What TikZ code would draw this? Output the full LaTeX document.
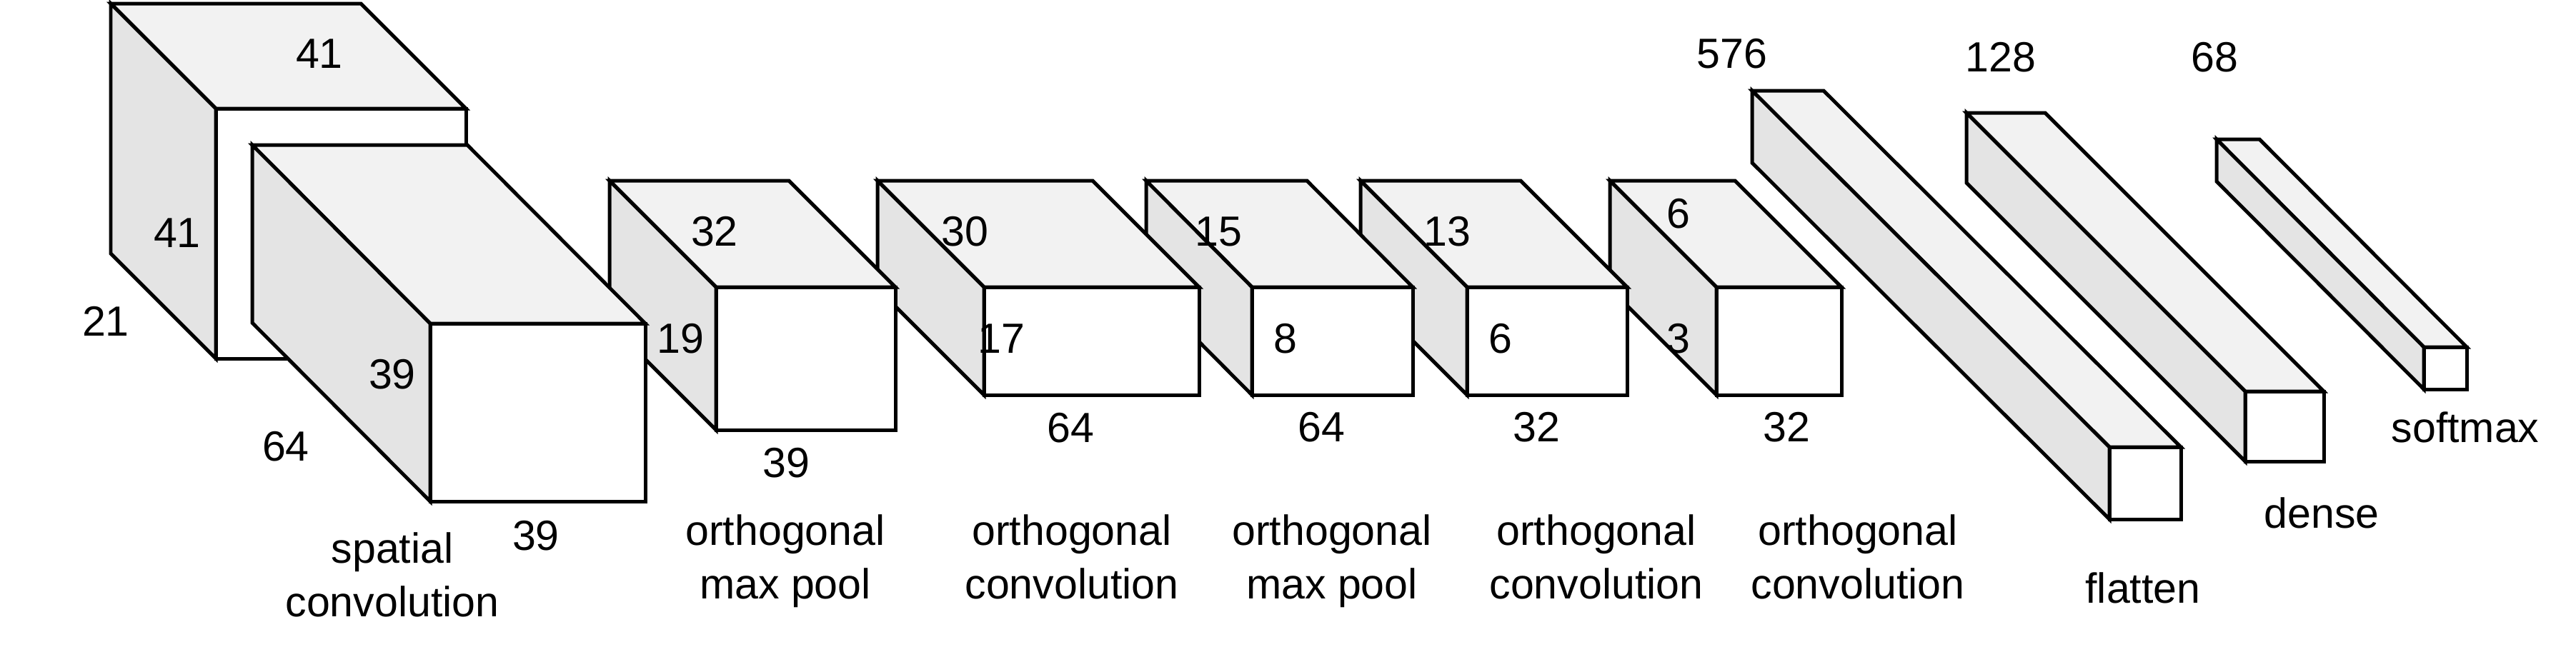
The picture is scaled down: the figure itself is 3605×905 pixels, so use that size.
\documentclass[tikz,border=0pt]{standalone}
\usepackage{fontspec}
\setmainfont{Liberation Sans}
\usepackage{xcolor}

% one layer: front top-left corner, front width and height, depth shift
\newcommand{\layer}[6]{%
	\draw[fill=gray!10] (#1-#5,#2-#6) -- (#1-#5+#3,#2-#6) -- (#1+#3,#2) -- (#1,#2) -- cycle;
	\draw[fill=gray!21] (#1-#5,#2-#6) -- (#1,#2) -- (#1,#2+#4) -- (#1-#5,#2-#6+#4) -- cycle;
	\draw[fill=white] (#1,#2) rectangle (#1+#3,#2+#4);
}

\tikzset{
	lbl/.style={font=\fontsize{16.8}{21.3}\selectfont, inner sep=0pt, anchor=base},
	lbltwo/.style={lbl, align=center, anchor=north}
}

\begin{document}
\begin{tikzpicture}[x=0.01cm, y=-0.01cm, line width=1.42pt]
				\useasboundingbox (0,0) rectangle (3605,905);
				
				% input block first, then the others from right to left
				\layer{302}{152}{350}{350}{147}{147}
				\foreach \bx/\by/\bw/\bh/\bdx/\bdy in {
					3392/486/60/59/290/291,
					3142/548/110/98/390/390,
					2952/626/100/101/500/499,
					2402/402/175/151/149/149,
					2053/402/224/151/149/149,
					1752/402/225/151/148/149,
					1377/402/301/151/149/149,
					1002/402/251/200/149/149,
					602/453/301/249/249/250}
					{\layer{\bx}{\by}{\bw}{\bh}{\bdx}{\bdy}}
				
				% input
				\node[lbl] (inTop) at (447,95) {41};
				\node[lbl] (inSide) at (248,346) {41};
				\node[lbl] (inDepth) at (148,470) {21};
				
				% spatial convolution
				\node[lbl] (sconvSide) at (549,544) {39};
				\node[lbl] (sconvDepth) at (400,645) {64};
				\node[lbl] (sconvWidth) at (750,770) {39};
				\node[lbltwo] (sconvName) at (549,743) {spatial\\convolution};
				
				% orthogonal max pool
				\node[lbl] (poolaDepth) at (1000,344) {32};
				\node[lbl] (poolaSide) at (952,494) {19};
				\node[lbl] (poolaWidth) at (1100,668) {39};
				\node[lbltwo] (poolaName) at (1099,718) {orthogonal\\max pool};
				
				% orthogonal convolution
				\node[lbl] (convaDepth) at (1350,344) {30};
				\node[lbl] (convaSide) at (1401,494) {17};
				\node[lbl] (convaWidth) at (1498,619) {64};
				\node[lbltwo] (convaName) at (1500,718) {orthogonal\\convolution};
				
				% orthogonal max pool
				\node[lbl] (poolbDepth) at (1705,344) {15};
				\node[lbl] (poolbSide) at (1799,494) {8};
				\node[lbl] (poolbWidth) at (1849,618) {64};
				\node[lbltwo] (poolbName) at (1864,718) {orthogonal\\max pool};
				
				% orthogonal convolution
				\node[lbl] (convbDepth) at (2025,344) {13};
				\node[lbl] (convbSide) at (2100,494) {6};
				\node[lbl] (convbWidth) at (2150,618) {32};
				\node[lbltwo] (convbName) at (2234,718) {orthogonal\\convolution};
				
				% orthogonal convolution
				\node[lbl] (convcDepth) at (2349,319) {6};
				\node[lbl] (convcSide) at (2349,494) {3};
				\node[lbl] (convcWidth) at (2500,618) {32};
				\node[lbltwo] (convcName) at (2600,718) {orthogonal\\convolution};
				
				% flatten, dense, softmax
				\node[lbl] (flatLen) at (2424,95) {576};
				\node[lbl] (flatName) at (2999,844) {flatten};
				\node[lbl] (denseLen) at (2800,100) {128};
				\node[lbl] (denseName) at (3249,739) {dense};
				\node[lbl] (softLen) at (3099,100) {68};
				\node[lbl] (softName) at (3450,619) {softmax};
				
			\end{tikzpicture}
\end{document}
